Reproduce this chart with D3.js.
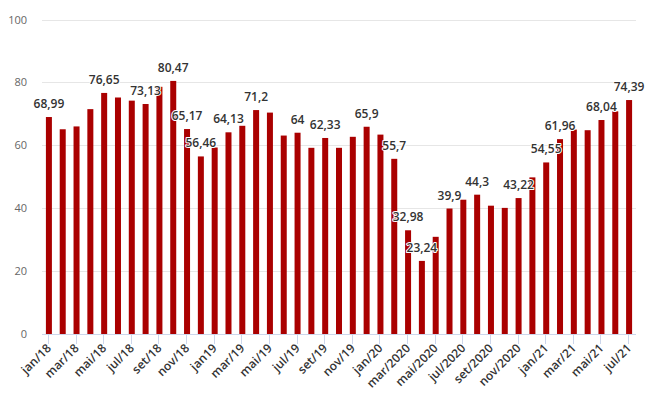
<!DOCTYPE html>
<html>
<head>
<meta charset="utf-8">
<script src="https://cdn.jsdelivr.net/npm/d3@7"></script>
<style>
  body { margin: 0; background: #fff; }
  svg { font-family: "Open Sans", sans-serif; display: block; }
</style>
</head>
<body>
<svg id="chart" width="660" height="397"></svg>
<script>
// monthly categories jan/18 .. jul/21
const months = [
  'jan/18', 'fev/18', 'mar/18', 'abr/18', 'mai/18', 'jun/18', 'jul/18', 'ago/18', 'set/18', 'out/18', 'nov/18', 'dez/18',
  'jan19', 'fev/19', 'mar/19', 'abr/19', 'mai/19', 'jun/19', 'jul/19', 'ago/19', 'set/19', 'out/19', 'nov/19', 'dez/19',
  'jan/20', 'fev/20', 'mar/2020', 'abr/2020', 'mai/2020', 'jun/2020', 'jul/2020', 'ago/2020', 'set/2020', 'out/2020', 'nov/2020', 'dez/2020',
  'jan/21', 'fev/21', 'mar/21', 'abr/21', 'mai/21', 'jun/21', 'jul/21'
]

const values = [
  68.99, 65.1, 66.0, 71.5, 76.65, 75.2, 74.2, 73.13, 78.6, 80.47, 65.17, 56.46,
  59.3, 64.13, 66.2, 71.2, 70.4, 63.1, 64, 59.2, 62.33, 59.2, 62.7, 65.9,
  63.4, 55.7, 32.98, 23.24, 30.9, 39.9, 42.7, 44.3, 40.8, 40.1, 43.22, 49.8,
  54.55, 61.96, 65.0, 64.8, 68.04, 70.8, 74.39
]

// months that carry a value label
const labelled = [
  'jan/18', 'mai/18', 'ago/18', 'out/18', 'nov/18', 'dez/18', 'fev/19', 'abr/19', 'jul/19', 'set/19',
  'dez/19', 'fev/20', 'mar/2020', 'abr/2020', 'jun/2020', 'ago/2020', 'nov/2020', 'jan/21', 'fev/21',
  'mai/21', 'jul/21'
]

const yTicks = [0, 20, 40, 60, 80, 100]

const data = months.map((m, i) => ({ month: m, value: values[i] }))

const svg = d3.select('#chart')
const plotLeft = 42
const plotRight = 636
const plotTop = 19.5
const plotBottom = 334

const xc = d3.scalePoint() // category centres
  .domain(months)
  .range([plotLeft, plotRight])
  .padding(0.5)

const y = d3.scaleLinear()
  .domain([0, 100])
  .range([plotBottom, plotTop])

// grid lines
svg.append('g')
  .selectAll('line')
  .data(yTicks.filter(t => t > 0))
  .join('line')
  .attr('x1', plotLeft)
  .attr('x2', plotRight)
  .attr('y1', d => Math.round(y(d)) + 0.5)
  .attr('y2', d => Math.round(y(d)) + 0.5)
  .attr('stroke', '#e6e6e6')

// y labels
svg.append('g')
  .selectAll('text')
  .data(yTicks)
  .join('text')
  .attr('x', 27)
  .attr('y', d => y(d) + 4)
  .attr('text-anchor', 'end')
  .attr('fill', '#666')
  .style('font-size', '11px')
  .text(d => d)

// bars
svg.append('g')
  .selectAll('rect')
  .data(data)
  .join('rect')
  .attr('x', d => xc(d.month) - 3)
  .attr('width', 6)
  .attr('y', d => y(d.value))
  .attr('height', d => y(0) - y(d.value))
  .attr('fill', '#aa0000')

// x axis line + ticks
const xAxis = svg.append('g')
xAxis.append('line')
  .attr('x1', plotLeft)
  .attr('x2', plotRight)
  .attr('y1', plotBottom + 0.5)
  .attr('y2', plotBottom + 0.5)
  .attr('stroke', '#ccd6eb')

const tickMonths = months.filter((m, i) => i % 2 === 0)

xAxis.selectAll('.tick')
  .data(tickMonths)
  .join('line')
  .attr('class', 'tick')
  .attr('x1', d => Math.round(xc(d)) - 0.5)
  .attr('x2', d => Math.round(xc(d)) - 0.5)
  .attr('y1', plotBottom)
  .attr('y2', plotBottom + 10)
  .attr('stroke', '#ccd6eb')

xAxis.selectAll('.lbl')
  .data(tickMonths)
  .join('text')
  .attr('class', 'lbl')
  .attr('text-anchor', 'end')
  .attr('transform', d => 'translate(' + (xc(d) + 3) + ',' + (plotBottom + 15) + ') rotate(-45)')
  .attr('fill', '#333')
  .attr('stroke', '#fff')
  .attr('stroke-width', 1)
  .attr('paint-order', 'stroke')
  .style('font-size', '12px')
  .style('font-weight', 600)
  .text(d => d)

// value labels
svg.append('g')
  .selectAll('text')
  .data(data.filter(d => labelled.includes(d.month)))
  .join('text')
  .attr('x', d => xc(d.month))
  .attr('y', d => y(d.value) - 9)
  .attr('text-anchor', 'middle')
  .attr('fill', '#333')
  .attr('stroke', '#fff')
  .attr('stroke-width', 2)
  .attr('stroke-linejoin', 'round')
  .attr('paint-order', 'stroke')
  .style('font-size', '12px')
  .style('font-weight', 600)
  .text(d => String(d.value).replace('.', ','))
</script>
</body>
</html>
